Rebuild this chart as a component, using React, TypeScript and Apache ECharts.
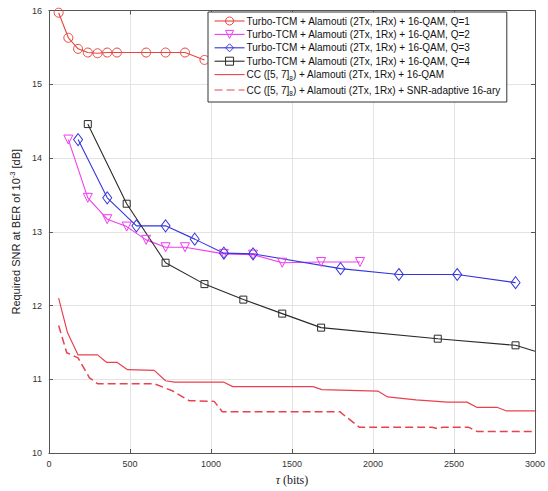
import React, { useEffect, useRef } from "react";
import * as echarts from "echarts";

const q1X = [60, 120, 180, 240, 300, 360, 420, 600, 720, 840, 960];
const q1Y = [15.97, 15.63, 15.48, 15.43, 15.42, 15.43, 15.43, 15.43, 15.43, 15.43, 15.33];

const q2X = [120, 240, 360, 480, 600, 720, 840, 1080, 1260, 1440, 1680, 1920];
const q2Y = [14.25, 13.46, 13.17, 13.07, 12.89, 12.79, 12.79, 12.7, 12.69, 12.58, 12.59, 12.59];

const q3X = [180, 360, 540, 720, 900, 1080, 1260, 1800, 2160, 2520, 2880];
const q3Y = [14.25, 13.46, 13.08, 13.08, 12.9, 12.71, 12.7, 12.5, 12.42, 12.42, 12.31];

const q4X = [240, 480, 720, 960, 1200, 1440, 1680, 2400, 2880, 3000];
const q4Y = [14.46, 13.38, 12.58, 12.29, 12.08, 11.89, 11.7, 11.55, 11.46, 11.38];

const ccX = [60, 115, 180, 300, 355, 420, 485, 650, 720, 775, 1080, 1135, 1630, 1685, 2030, 2090, 2265, 2460, 2580, 2640, 2765, 2825, 3000];
const ccY = [12.1, 11.63, 11.33, 11.33, 11.23, 11.23, 11.13, 11.12, 10.98, 10.96, 10.96, 10.9, 10.9, 10.86, 10.84, 10.76, 10.72, 10.69, 10.69, 10.62, 10.62, 10.57, 10.57];

const adX = [60, 110, 180, 250, 300, 650, 765, 865, 1020, 1070, 1795, 1915, 2365, 2400, 2430, 2590, 2645, 3000];
const adY = [11.73, 11.36, 11.29, 11.02, 10.94, 10.94, 10.84, 10.71, 10.7, 10.56, 10.56, 10.35, 10.35, 10.33, 10.35, 10.35, 10.29, 10.29];

const seriesNames = [
  "Turbo-TCM + Alamouti (2Tx, 1Rx) + 16-QAM, Q=1",
  "Turbo-TCM + Alamouti (2Tx, 1Rx) + 16-QAM, Q=2",
  "Turbo-TCM + Alamouti (2Tx, 1Rx) + 16-QAM, Q=3",
  "Turbo-TCM + Alamouti (2Tx, 1Rx) + 16-QAM, Q=4",
  "CC ([5, 7]8) + Alamouti (2Tx, 1Rx) + 16-QAM",
  "CC ([5, 7]8) + Alamouti (2Tx, 1Rx) + SNR-adaptive 16-ary",
];

const xTicks = [0, 500, 1000, 1500, 2000, 2500, 3000];
const yTicks = [10, 11, 12, 13, 14, 15, 16];

const zip = (xs: number[], ys: number[]) => xs.map((x, i) => [x, ys[i]]);

export default function App() {
  const ref = useRef<HTMLDivElement>(null);
  useEffect(() => {
    if (!ref.current) return;
    const chart = echarts.init(ref.current, null, { renderer: "svg" });
    const font = "Liberation Sans, Arial, sans-serif";
    const markerSeries = (name: string, data: any[], color: string, symbol: string, size: number | number[], rotate = 0) => ({
      name,
      type: "line",
      data,
      symbol,
      symbolSize: size,
      symbolRotate: rotate,
      showSymbol: true,
      lineStyle: { color, width: 1.1 },
      itemStyle: { color: "rgba(255,255,255,0)", borderColor: color, borderWidth: 1 },
      emphasis: { disabled: true },
      z: 3,
    });
    const q4Data: any[] = zip(q4X, q4Y).map((p) => (p[0] === 3000 ? { value: p, symbol: "none" } : p));
    const axisCommon = {
      type: "value",
      axisLine: { show: true, onZero: false, lineStyle: { color: "#555", width: 1 } },
      axisTick: { show: true, inside: true, length: 4, lineStyle: { color: "#555" } },
    };
    const clear = "rgba(0,0,0,0)";
    chart.setOption({
      animation: false,
      backgroundColor: "#fff",
      textStyle: { fontFamily: font },
      grid: { left: 45, right: 13, top: 10.5, bottom: 30.5, containLabel: false },
      legend: {
        orient: "vertical",
        left: 208,
        top: 12,
        width: 325,
        padding: [4, 6, 5, 6],
        itemGap: 3.4,
        itemWidth: 30,
        itemHeight: 10,
        borderColor: "#333",
        borderWidth: 1,
        backgroundColor: "#fff",
        itemStyle: { borderWidth: 1 },
        lineStyle: { width: 1.1 },
        textStyle: {
          fontFamily: font,
          fontSize: 10,
          color: "#111",
          padding: [0, 0, 0, -3],
          rich: {
            sub: { fontSize: 6.5, padding: [7, 0, 0, 0], fontFamily: font, color: "#111" },
          },
        },
        formatter: (n: string) => n.replace("[5, 7]8", "[5, 7]{sub|8}"),
        data: seriesNames,
      },
      xAxis: [
        {
          ...axisCommon,
          position: "bottom",
          min: 0,
          max: 3000,
          interval: 500,
          axisLabel: { color: "#333", fontSize: 9, margin: 6, fontFamily: font, formatter: (v: number) => (xTicks.includes(v) ? String(v) : "") },
          splitLine: { show: true, lineStyle: { color: "#e3e3e3", width: 1 } },
          name: "{it|τ} (bits)",
          nameLocation: "middle",
          nameGap: 21,
          nameTextStyle: {
            fontFamily: "Liberation Serif, DejaVu Serif, serif",
            fontSize: 12,
            color: "#222",
            rich: { it: { fontFamily: "Liberation Serif, serif", fontStyle: "italic", fontSize: 12, color: "#222" } },
          },
        },
        {
          ...axisCommon,
          position: "top",
          min: 0,
          max: 3000,
          interval: 500,
          axisLabel: { show: false },
          splitLine: { show: false },
        },
      ],
      yAxis: [
        {
          ...axisCommon,
          position: "left",
          min: 10,
          max: 16,
          interval: 1,
          axisLabel: { color: "#333", fontSize: 9, margin: 7, fontFamily: font, formatter: (v: number) => (yTicks.includes(v) ? String(v) : "") },
          splitLine: { show: true, lineStyle: { color: "#e3e3e3", width: 1 } },
          name: "Required SNR at BER of 10{sup|-3} [dB]",
          nameLocation: "middle",
          nameGap: 21,
          nameRotate: 90,
          nameTextStyle: {
            fontFamily: font,
            fontSize: 11,
            color: "#222",
            rich: { sup: { fontSize: 7.5, padding: [0, 0, 7, 0], fontFamily: font, color: "#222" } },
          },
        },
        {
          ...axisCommon,
          position: "right",
          min: 10,
          max: 16,
          interval: 1,
          axisLabel: { show: false },
          splitLine: { show: false },
        },
      ],
      series: [
        markerSeries(seriesNames[0], zip(q1X, q1Y), "#e8453f", "circle", 9),
        markerSeries(seriesNames[1], zip(q2X, q2Y), "#f03cf0", "triangle", 9, 180),
        markerSeries(seriesNames[2], zip(q3X, q3Y), "#3535e0", "diamond", [9, 12]),
        markerSeries(seriesNames[3], q4Data, "#2a2a2a", "rect", 7),
        {
          name: seriesNames[4],
          type: "line",
          data: zip(ccX, ccY),
          symbol: "none",
          lineStyle: { color: "#e8424e", width: 1.2 },
          itemStyle: { color: clear, borderColor: clear },
          emphasis: { disabled: true },
        },
        {
          name: seriesNames[5],
          type: "line",
          data: zip(adX, adY),
          symbol: "none",
          lineStyle: { color: "#e8424e", width: 1.5, type: [8, 4] },
          itemStyle: { color: clear, borderColor: clear },
          emphasis: { disabled: true },
        },
      ],
    });
    return () => chart.dispose();
  }, []);
  return <div ref={ref} style={{ width: 548, height: 491, position: "absolute", left: 0, top: 0 }} />;
}
